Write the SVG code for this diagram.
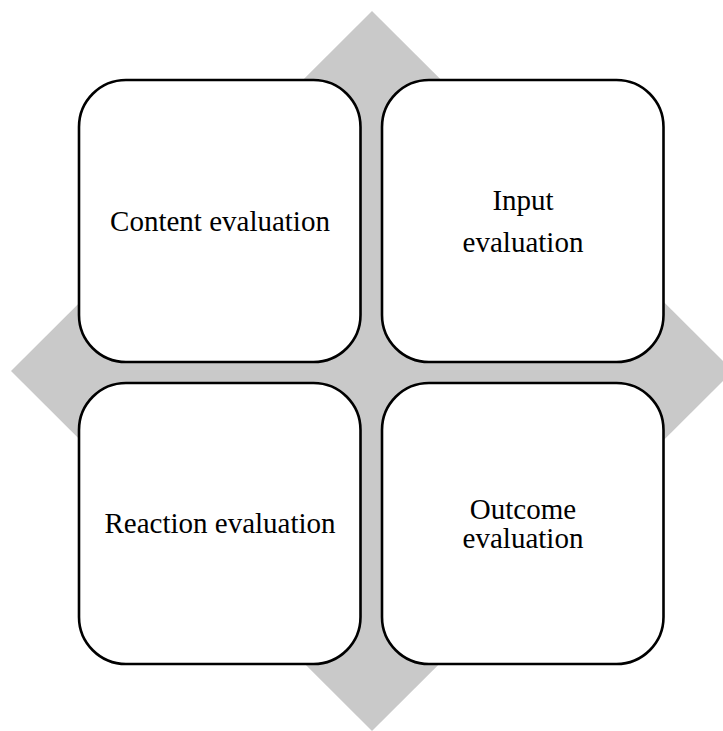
<svg xmlns="http://www.w3.org/2000/svg" width="723" height="731" viewBox="0 0 723 731">
  <style>
    .box { fill: #ffffff; stroke: #000000; stroke-width: 2.6; }
    .lbl { font-family: "Liberation Serif", "Times New Roman", serif; font-size: 29px; fill: #000000; text-anchor: middle; }
  </style>
  <rect width="723" height="731" fill="#ffffff"/>
  <!-- background diamond -->
  <polygon id="diamond" points="372,11 733,371 372,731 11,371" fill="#c9c9c9"/>
  <g id="connectors"></g>
  <g id="content">
    <rect class="box" x="79" y="80" width="281.5" height="282" rx="47" ry="47"/>
    <text class="lbl" x="220" y="230.5">Content evaluation</text>
  </g>
  <g id="input">
    <rect class="box" x="382" y="80" width="281.5" height="282" rx="47" ry="47"/>
    <text class="lbl" x="523" y="209.5">Input</text>
    <text class="lbl" x="523" y="251.5">evaluation</text>
  </g>
  <g id="reaction">
    <rect class="box" x="79" y="383" width="281.5" height="281" rx="47" ry="47"/>
    <text class="lbl" x="220" y="533">Reaction evaluation</text>
  </g>
  <g id="outcome">
    <rect class="box" x="382" y="383" width="281.5" height="281" rx="47" ry="47"/>
    <text class="lbl" x="523" y="519">Outcome</text>
    <text class="lbl" x="523" y="548">evaluation</text>
  </g>
</svg>
